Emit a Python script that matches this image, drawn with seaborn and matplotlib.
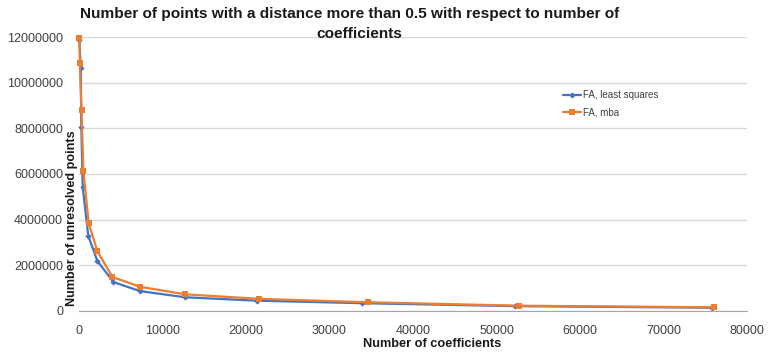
import matplotlib
matplotlib.use('Agg')
import matplotlib.pyplot as plt
import seaborn as sns
import pandas as pd
from matplotlib.ticker import MultipleLocator, FuncFormatter

# values
coef_ls = [50, 200, 280, 440, 1110, 2190, 4110, 7300, 12700, 21280, 33860, 52220, 75770]
pts_ls = [11900000, 10670000, 8080000, 5440000, 3290000, 2190000, 1260000, 860000, 590000, 440000, 330000, 200000, 130000]
coef_mba = [50, 100, 300, 520, 1160, 2190, 4000, 7300, 12700, 21560, 34570, 52730, 76080]
pts_mba = [11980000, 10860000, 8800000, 6150000, 3840000, 2620000, 1480000, 1050000, 720000, 520000, 370000, 220000, 150000]
series_names = ['FA, least squares', 'FA, mba']

df = pd.concat([
    pd.DataFrame({'coef': coef_ls, 'points': pts_ls, 'series': series_names[0]}),
    pd.DataFrame({'coef': coef_mba, 'points': pts_mba, 'series': series_names[1]}),
])

sns.set_style('white')
plt.rcParams['font.family'] = ['Liberation Sans', 'DejaVu Sans']

fig = plt.figure(figsize=(7.68, 3.52), dpi=100)
ax = fig.add_axes([79/768, 1 - 310.7/352, (747 - 79)/768, (310.7 - 37.3)/352])

palette = {series_names[0]: '#4472C4', series_names[1]: '#ED7D31'}
markers = {series_names[0]: 'D', series_names[1]: 's'}
sizes_m = {series_names[0]: 3.2, series_names[1]: 4.8}

for name in series_names:
    sub = df[df.series == name]
    sns.lineplot(data=sub, x='coef', y='points', ax=ax, color=palette[name],
                 marker=markers[name], markersize=sizes_m[name], markeredgewidth=0,
                 linewidth=1.6, label=name, clip_on=False, estimator=None, sort=False)

ax.set_xlim(0, 80000)
ax.set_ylim(0, 12000000)
ax.xaxis.set_major_locator(MultipleLocator(10000))
ax.xaxis.set_minor_locator(MultipleLocator(2000))
ax.yaxis.set_major_locator(MultipleLocator(2000000))
ax.yaxis.set_major_formatter(FuncFormatter(lambda v, p: '%d' % v))
ax.grid(axis='y', color='#D9D9D9', linewidth=1)
ax.set_axisbelow(True)
for s in ['top', 'right', 'left']:
    ax.spines[s].set_visible(False)
ax.spines['bottom'].set_color('#A6A6A6')
ax.tick_params(axis='x', which='major', direction='inout', length=5, width=1, color='#A6A6A6',
               labelsize=9, labelcolor='#404040', pad=7.5)
ax.tick_params(axis='x', which='minor', direction='out', length=3, color='#A6A6A6')
ax.tick_params(axis='y', length=0, labelsize=9, labelcolor='#404040', pad=11.5)
ax.set_xlabel('')
ax.set_ylabel('')

fig.text(350/768, 1 - 14/352, 'Number of points with a distance more than 0.5 with respect to number of',
         ha='center', va='center', fontsize=11.1, fontweight='bold', color='#1a1a1a')
fig.text(359/768, 1 - 34/352, 'coefficients',
         ha='center', va='center', fontsize=11.1, fontweight='bold', color='#1a1a1a')
fig.text(72/768, 1 - 218/352, 'Number of unresolved points', rotation=90, ha='center', va='center',
         fontsize=9.1, fontweight='bold', color='#1a1a1a')
fig.text(432/768, 1 - 344/352, 'Number of coefficients', ha='center', va='center',
         fontsize=9.2, fontweight='bold', color='#1a1a1a')

ax.legend(loc='upper left', bbox_to_anchor=(563/768, 1 - 90/352), bbox_transform=fig.transFigure,
          frameon=False, fontsize=7, borderaxespad=0, borderpad=0,
          handlelength=1.8, handletextpad=0.25, labelspacing=0.8, labelcolor='#404040')

fig.savefig('out.png', dpi=100)
